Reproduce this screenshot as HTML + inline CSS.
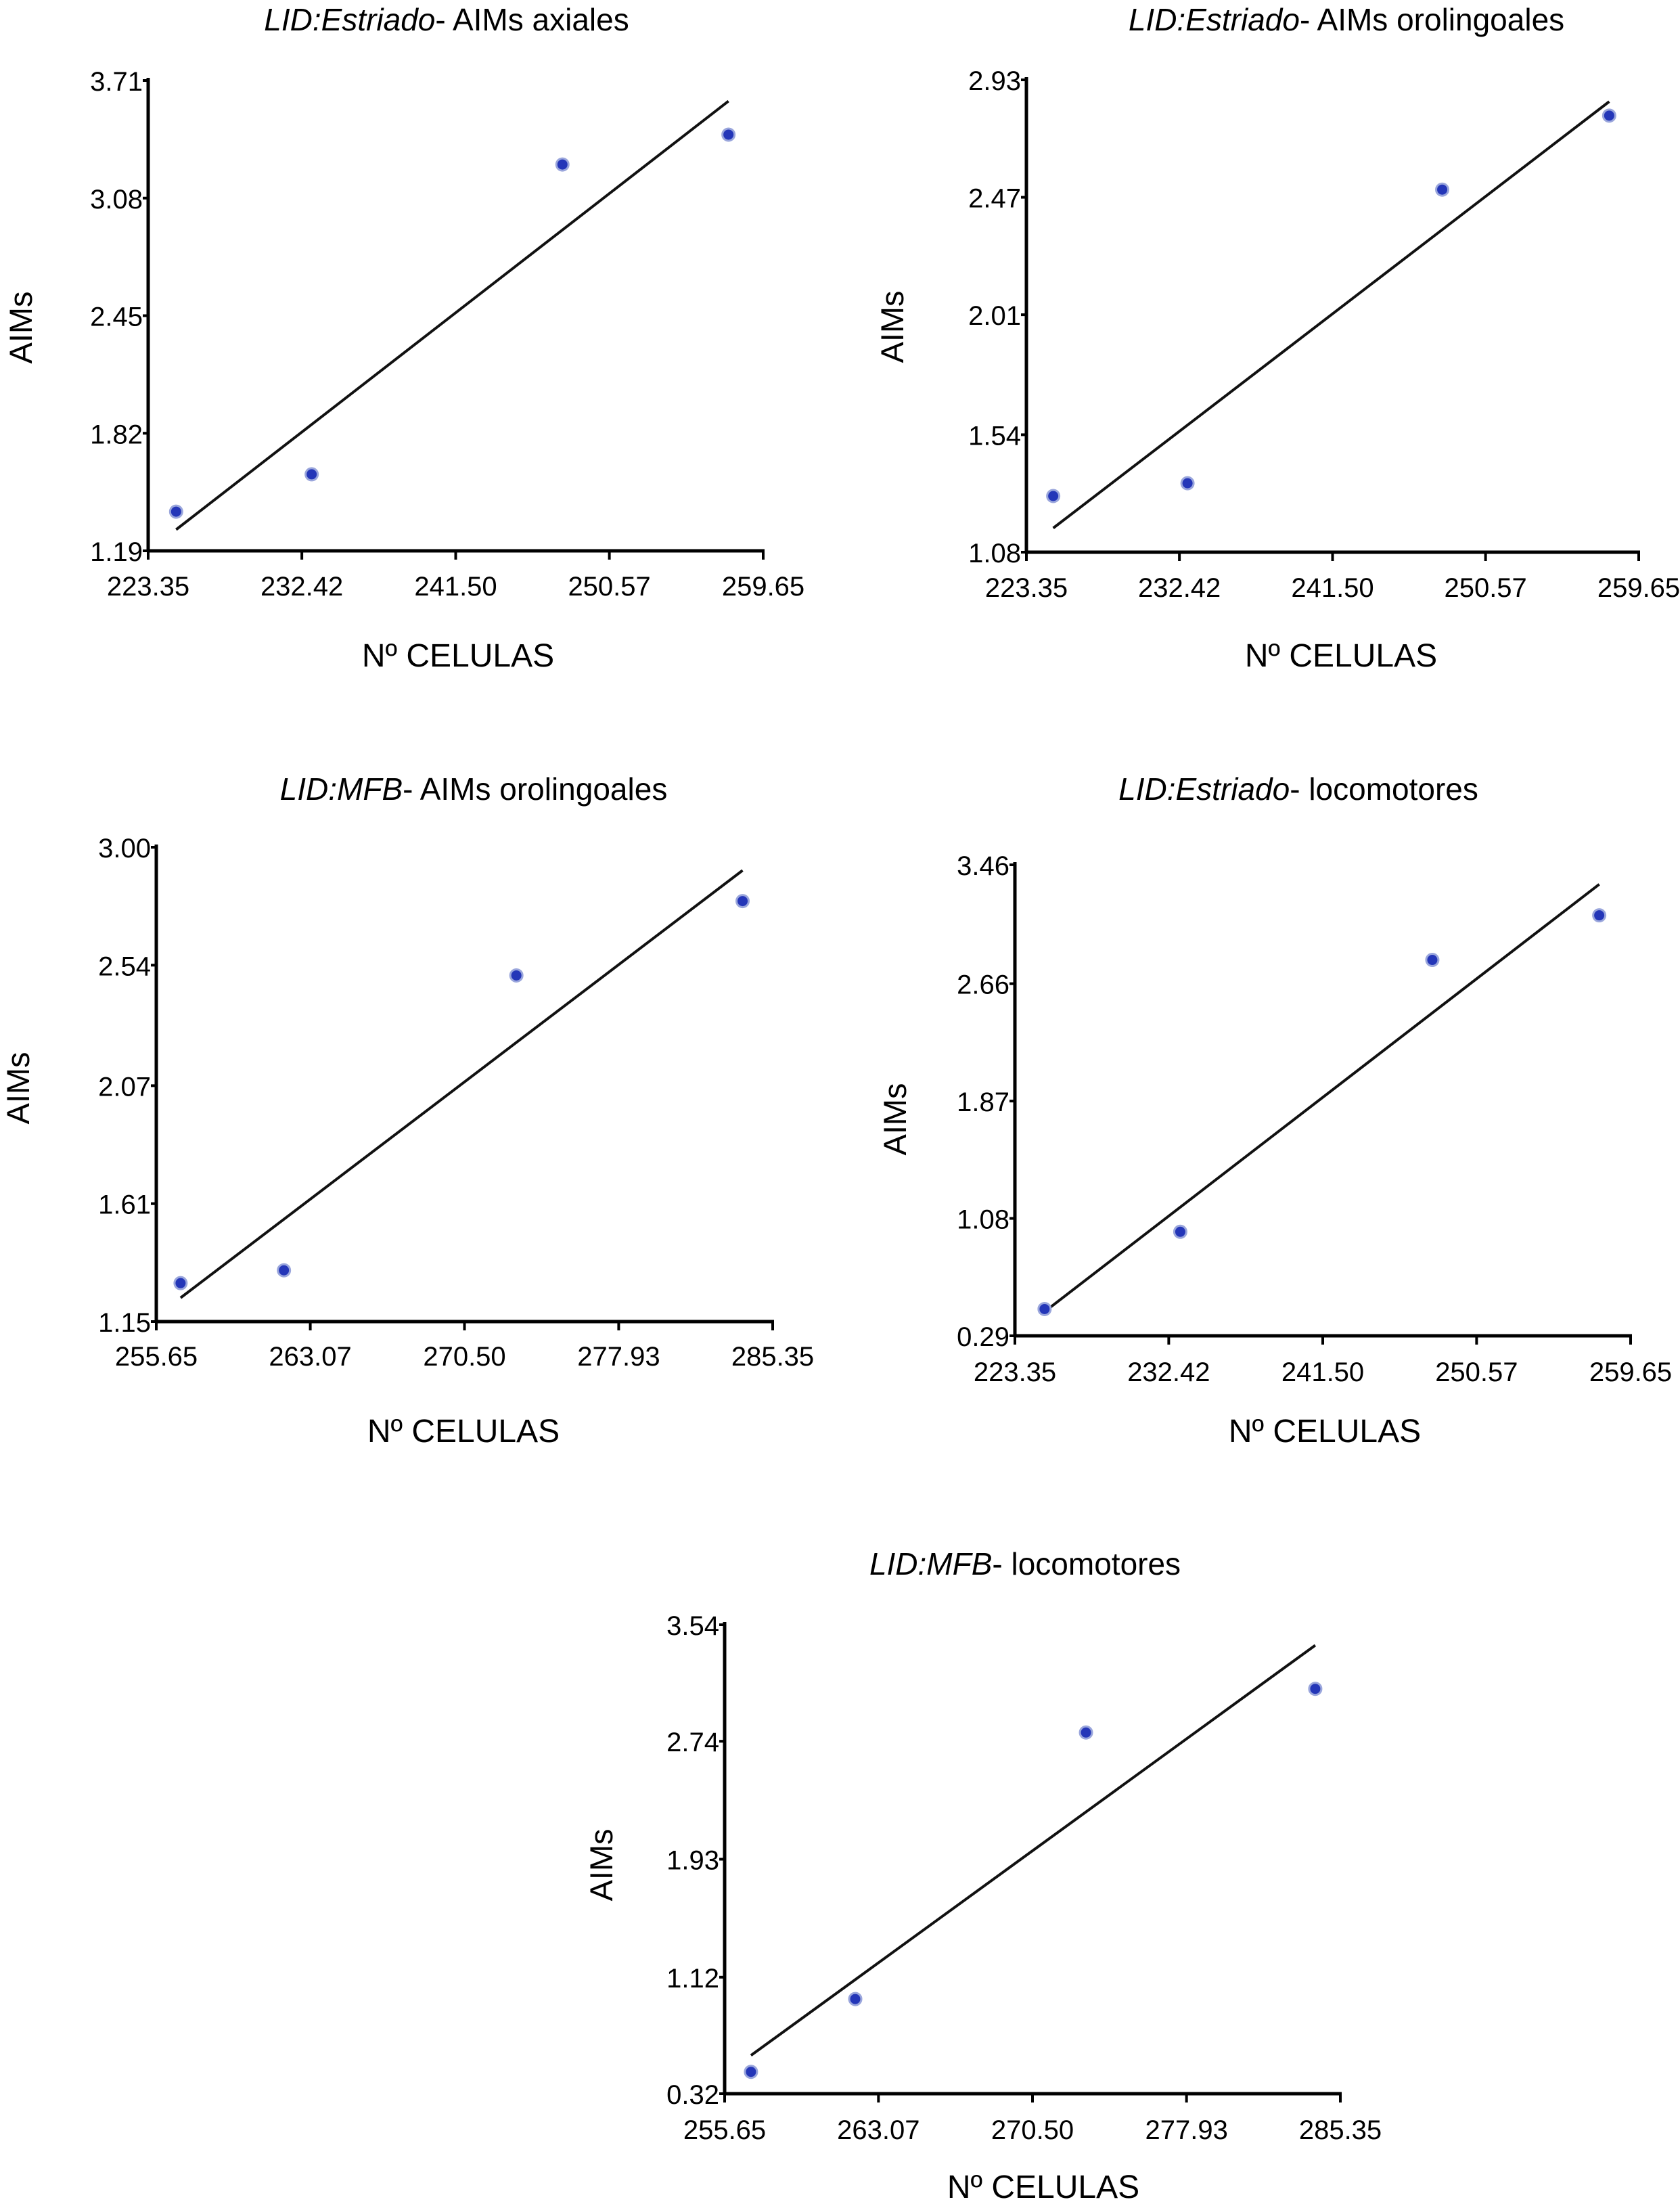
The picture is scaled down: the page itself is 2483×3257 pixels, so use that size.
<!DOCTYPE html>
<html><head><meta charset="utf-8"><style>
html,body{margin:0;padding:0;background:#fff}
svg{display:block}
text{font-family:"Liberation Sans",Arial,sans-serif;fill:#000}
</style></head><body>
<svg id="fig" width="2483" height="3257" viewBox="0 0 2483 3257" xmlns="http://www.w3.org/2000/svg"></svg>
<script>
// Chart 1: LID:Estriado - AIMs axiales
const c1X = [225.0, 233.0, 247.8, 257.6];
const c1Y = [1.40, 1.60, 3.26, 3.42];
const c1XTicks = ["223.35","232.42","241.50","250.57","259.65"];
const c1YTicks = ["1.19","1.82","2.45","3.08","3.71"];
// Chart 2: LID:Estriado - AIMs orolingoales
const c2X = [224.94, 232.9, 248.0, 257.9];
const c2Y = [1.30, 1.35, 2.50, 2.79];
const c2XTicks = ["223.35","232.42","241.50","250.57","259.65"];
const c2YTicks = ["1.08","1.54","2.01","2.47","2.93"];
// Chart 3: LID:MFB - AIMs orolingoales
const c3X = [256.82, 261.8, 273.0, 283.9];
const c3Y = [1.30, 1.35, 2.50, 2.79];
const c3XTicks = ["255.65","263.07","270.50","277.93","285.35"];
const c3YTicks = ["1.15","1.61","2.07","2.54","3.00"];
// Chart 4: LID:Estriado - locomotores
const c4X = [225.1, 233.1, 247.96, 257.8];
const c4Y = [0.47, 0.99, 2.82, 3.12];
const c4XTicks = ["223.35","232.42","241.50","250.57","259.65"];
const c4YTicks = ["0.29","1.08","1.87","2.66","3.46"];
// Chart 5: LID:MFB - locomotores
const c5X = [256.92, 261.95, 273.08, 284.14];
const c5Y = [0.47, 0.97, 2.80, 3.10];
const c5XTicks = ["255.65","263.07","270.50","277.93","285.35"];
const c5YTicks = ["0.32","1.12","1.93","2.74","3.54"];

const NS = "http://www.w3.org/2000/svg";
const svg = document.getElementById('fig');
function mk(tag, attrs, parent){
  const e = document.createElementNS(NS, tag);
  for (const k in attrs) e.setAttribute(k, attrs[k]);
  (parent||svg).appendChild(e);
  return e;
}

const layouts = [
  {xs:c1X, ys:c1Y, xt:c1XTicks, yt:c1YTicks, it:"LID:Estriado", rest:"- AIMs axiales", L:219, R:1128, T:119, B:814, tx:660, ty:45, xl:677, xly:985, yl:30, yly:484, tly:880},
  {xs:c2X, ys:c2Y, xt:c2XTicks, yt:c2YTicks, it:"LID:Estriado", rest:"- AIMs orolingoales", L:1517, R:2422, T:118, B:816, tx:1990, ty:45, xl:1982, xly:985, yl:1318, yly:483, tly:882},
  {xs:c3X, ys:c3Y, xt:c3XTicks, yt:c3YTicks, it:"LID:MFB", rest:"- AIMs orolingoales", L:231, R:1142, T:1252, B:1953, tx:700, ty:1182, xl:685, xly:2131, yl:26, yly:1608, tly:2018},
  {xs:c4X, ys:c4Y, xt:c4XTicks, yt:c4YTicks, it:"LID:Estriado", rest:"- locomotores", L:1500, R:2410, T:1278, B:1974, tx:1919, ty:1182, xl:1958, xly:2131, yl:1322, yly:1654, tly:2041},
  {xs:c5X, ys:c5Y, xt:c5XTicks, yt:c5YTicks, it:"LID:MFB", rest:"- locomotores", L:1071, R:1981, T:2401, B:3094, tx:1515, ty:2327, xl:1542, xly:3248, yl:888, yly:2756, tly:3161}
];

layouts.forEach((c, ci) => {
  const g = mk('g', {});
  
  
  const xmin = parseFloat(c.xt[0]), xmax = parseFloat(c.xt[c.xt.length-1]);
  const ymin = parseFloat(c.yt[0]), ymax = parseFloat(c.yt[c.yt.length-1]);
  const sx = v => c.L + (v - xmin) / (xmax - xmin) * (c.R - c.L);
  const sy = v => c.B - (v - ymin) / (ymax - ymin) * (c.B - c.T);

  const t = mk('text', {x:c.tx, y:c.ty, 'text-anchor':'middle', 'font-size':46}, g);
  
  
  const ts1 = mk('tspan', {'font-style':'italic'}, t); ts1.textContent = c.it;
  const ts2 = mk('tspan', {}, t); ts2.textContent = c.rest;

  const ya = mk('line', {x1:c.L, y1:c.T-4, x2:c.L, y2:c.B+2, stroke:'#000', 'stroke-width':5}, g);
  
  
  const xa = mk('line', {x1:c.L-2, y1:c.B, x2:c.R+2, y2:c.B, stroke:'#000', 'stroke-width':5}, g);
  
  

  c.yt.forEach(lab => {
    const y = sy(parseFloat(lab));
    const tk = mk('line', {x1:c.L-8, y1:y, x2:c.L, y2:y, stroke:'#000', 'stroke-width':4}, g);
    
    
    const tl = mk('text', {x:c.L-8, y:y+15, 'text-anchor':'end', 'font-size':40}, g);
    
    
    tl.textContent = lab;
  });
  c.xt.forEach(lab => {
    const x = sx(parseFloat(lab));
    const tk = mk('line', {x1:x, y1:c.B, x2:x, y2:c.B+13, stroke:'#000', 'stroke-width':4}, g);
    
    
    const tl = mk('text', {x:x, y:c.tly, 'text-anchor':'middle', 'font-size':40}, g);
    
    
    tl.textContent = lab;
  });

  const xl = mk('text', {x:c.xl, y:c.xly, 'text-anchor':'middle', 'font-size':48}, g);
  
  
  xl.textContent = 'Nº CELULAS';
  const yl = mk('text', {x:0, y:0, 'text-anchor':'middle', 'font-size':47, transform:`translate(${c.yl+17},${c.yly}) rotate(-90)`}, g);
  
  
  yl.textContent = 'AIMs';

  const n = c.xs.length;
  const mx = c.xs.reduce((a,b)=>a+b,0)/n, my = c.ys.reduce((a,b)=>a+b,0)/n;
  let sxy=0, sxx=0;
  for (let i=0;i<n;i++){ sxy += (c.xs[i]-mx)*(c.ys[i]-my); sxx += (c.xs[i]-mx)**2; }
  const slope = sxy/sxx, icpt = my - slope*mx;
  const x0 = Math.min(...c.xs), x1 = Math.max(...c.xs);
  const rl = mk('line', {x1:sx(x0), y1:sy(icpt+slope*x0), x2:sx(x1), y2:sy(icpt+slope*x1), stroke:'#111', 'stroke-width':4}, g);
  
  

  for (let i=0;i<n;i++){
    const p = mk('circle', {cx:sx(c.xs[i]), cy:sy(c.ys[i]), r:9, fill:'#2436b8', stroke:'#9aa6dc', 'stroke-width':3}, g);
    
    
  }
});
</script>
</body></html>
